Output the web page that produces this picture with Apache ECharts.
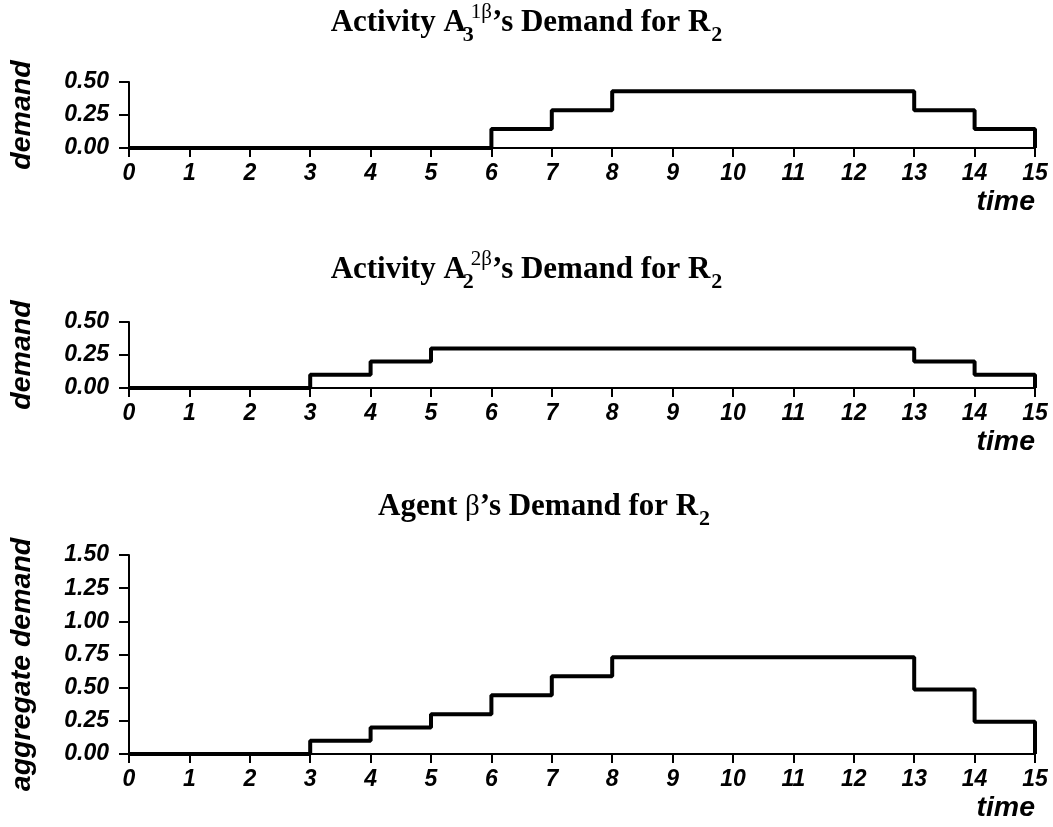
<!DOCTYPE html>
<html><head><meta charset="utf-8">
<script src="https://cdn.jsdelivr.net/npm/echarts@6/dist/echarts.min.js"></script>
<style>html,body{margin:0;padding:0;background:#fff}#c{width:1053px;height:827px}</style>
</head><body><div id="c"></div>
<script>
// ---- data ----
const times = [0,1,2,3,4,5,6,7,8,9,10,11,12,13,14,15];
const demandA3 = [0,0,0,0,0,0,0.143,0.286,0.429,0.429,0.429,0.429,0.429,0.286,0.143,0];
const demandA2 = [0,0,0,0.1,0.2,0.3,0.3,0.3,0.3,0.3,0.3,0.3,0.3,0.2,0.1,0];
const aggregateDemand = [0,0,0,0.1,0.2,0.3,0.443,0.586,0.729,0.729,0.729,0.729,0.729,0.486,0.243,0];
const titles = [
  '{t|Activity A}{sb|3}{sp|1β}{t|’s Demand for R}{sb2|2}',
  '{t|Activity A}{sb|2}{sp|2β}{t|’s Demand for R}{sb2|2}',
  '{t|Agent }{g|β}{t|’s Demand for R}{sb2|2}'
];
const yNames = ['demand', 'demand', 'aggregate demand'];
const yMax = [0.5, 0.5, 1.5];
const xName = 'time';

// ---- styles ----
const SANS = 'Liberation Sans';
const SERIF = 'Liberation Serif';
const TF = 31;
const rich = {
  t: {fontFamily: SERIF, fontWeight: 'bold', fontSize: TF, color: '#000'},
  sb: {fontFamily: SERIF, fontWeight: 'bold', fontSize: 22, color: '#000', padding: [24,0,0,2], width: 1},
  sb2: {fontFamily: SERIF, fontWeight: 'bold', fontSize: 22, color: '#000', padding: [24,0,0,1]},
  sp: {fontFamily: SERIF, fontWeight: 'normal', fontSize: 21, color: '#000', padding: [0,0,22,2]},
  g: {fontFamily: SERIF, fontWeight: 'normal', fontSize: 29, color: '#000'}
};
const gridTops = [82, 322, 555];
const gridHeights = [66, 66, 199];
const titleTops = [0, 247, 484];
const titleLefts = ['center', 'center', 378];
const labelFont = {fontFamily: SANS, fontStyle: 'italic', fontWeight: 'bold', fontSize: 23, color: '#000'};
const nameFont = {fontFamily: SANS, fontStyle: 'italic', fontWeight: 'bold', fontSize: 28.5, color: '#000'};
const yNamePad = [[0,0,0,0],[0,0,0,0],[0,20,0,0]];

const seriesData = [demandA3, demandA2, aggregateDemand];

const option = {
  animation: false,
  backgroundColor: '#fff',
  title: titles.map((txt, i) => ({
    text: txt, left: titleLefts[i], top: titleTops[i], padding: 0,
    textStyle: {rich: rich, fontFamily: SERIF, fontWeight: 'bold', fontSize: TF, color: '#000'}
  })),
  grid: gridTops.map((t, i) => ({left: 128, right: 18, top: t, height: gridHeights[i]})),
  xAxis: gridTops.map((t, i) => ({
    type: 'value', gridIndex: i, min: 0, max: 15, interval: 1,
    axisLine: {show: true, lineStyle: {color: '#000', width: 2}},
    axisTick: {show: true, length: 9, lineStyle: {color: '#000', width: 2}},
    axisLabel: Object.assign({margin: 14}, labelFont),
    splitLine: {show: false},
    name: xName, nameLocation: 'end', nameGap: 0,
    nameTextStyle: Object.assign({align: 'right', verticalAlign: 'top', padding: [40, 0, 0, 0]}, nameFont)
  })),
  yAxis: gridTops.map((t, i) => ({
    type: 'value', gridIndex: i, min: 0, max: yMax[i], interval: 0.25,
    axisLine: {show: true, lineStyle: {color: '#000', width: 2}},
    axisTick: {show: true, length: 10, lineStyle: {color: '#000', width: 2}},
    axisLabel: Object.assign({margin: 20, formatter: v => v.toFixed(2)}, labelFont),
    splitLine: {show: false},
    name: yNames[i], nameLocation: 'middle', nameGap: 92, nameRotate: 90,
    nameTextStyle: Object.assign({padding: yNamePad[i]}, nameFont)
  })),
  series: seriesData.map((arr, i) => ({
    type: 'line', xAxisIndex: i, yAxisIndex: i, step: 'end',
    symbol: 'none', showSymbol: false, clip: false,
    lineStyle: {color: '#000', width: 4},
    data: times.map((tt, k) => [tt, arr[k]])
  }))
};
const chart = echarts.init(document.getElementById('c'), null, {renderer: 'canvas'});
chart.setOption(option);
</script>
</body></html>
